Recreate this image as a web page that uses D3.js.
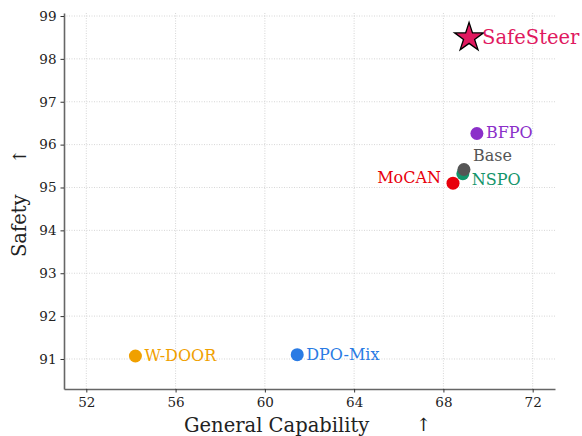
<!DOCTYPE html>
<html>
<head>
<meta charset="utf-8">
<script src="https://d3js.org/d3.v7.min.js"></script>
<style>
body { margin: 0; background: #fff; }
text { font-family: "DejaVu Serif", serif; }
</style>
</head>
<body>
<div id="chart"></div>
<script>
// methods, capability (x), safety (y)
var names = ["SafeSteer", "BFPO", "Base", "NSPO", "MoCAN", "W-DOOR", "DPO-Mix"];
var capability = [69.15, 69.5, 68.92, 68.87, 68.43, 54.2, 61.45];
var safety = [98.52, 96.26, 95.42, 95.32, 95.1, 91.07, 91.1];
var colors = ["#e0195f", "#8b2fc9", "#555555", "#14956b", "#e8000b", "#f0a000", "#2a7be4"];
var xTicks = [52, 56, 60, 64, 68, 72];
var yTicks = [91, 92, 93, 94, 95, 96, 97, 98, 99];

var W = 582, H = 436;
var margin = {top: 13, right: 27, bottom: 47, left: 64};
var width = W - margin.left - margin.right,
    height = H - margin.top - margin.bottom;

var svg = d3.select("#chart").append("svg")
    .attr("width", W).attr("height", H)
  .append("g")
    .attr("transform", "translate(" + margin.left + "," + margin.top + ")");

var x = d3.scaleLinear().domain([51, 73]).range([0, width]);
var y = d3.scaleLinear().domain([90.3, 99.07]).range([height, 0]);

// grid
svg.append("g").selectAll("line.gx").data(xTicks).enter().append("line")
    .attr("x1", d => x(d)).attr("x2", d => x(d))
    .attr("y1", 0).attr("y2", height)
    .attr("stroke", "#cccccc").attr("stroke-width", 0.8).attr("stroke-dasharray", "1,1.5");
svg.append("g").selectAll("line.gy").data(yTicks).enter().append("line")
    .attr("x1", 0).attr("x2", width)
    .attr("y1", d => y(d)).attr("y2", d => y(d))
    .attr("stroke", "#cccccc").attr("stroke-width", 0.8).attr("stroke-dasharray", "1,1.5");

// axes
var xAxis = svg.append("g")
    .attr("transform", "translate(0," + height + ")")
    .call(d3.axisBottom(x).tickValues(xTicks).tickSize(3.5).tickSizeOuter(0).tickPadding(5));
var yAxis = svg.append("g")
    .call(d3.axisLeft(y).tickValues(yTicks).tickSize(3.5).tickSizeOuter(0).tickPadding(4));
[xAxis, yAxis].forEach(function(a) {
  a.select(".domain").attr("stroke", "#666").attr("stroke-width", 1.6);
  a.selectAll(".tick line").attr("stroke", "#333");
  a.selectAll(".tick text").attr("font-size", 13.5).attr("fill", "#222")
    .attr("font-family", "DejaVu Serif, serif");
});

// axis labels
svg.append("text")
    .attr("x", 120).attr("y", height + 43)
    .attr("font-size", 19.5).attr("fill", "#222")
    .text("General Capability");
svg.append("text")
    .attr("x", 352).attr("y", height + 42)
    .attr("font-size", 18).attr("fill", "#222")
    .text("↑");
svg.append("text")
    .attr("transform", "translate(" + (-38) + "," + 244 + ")rotate(-90)")
    .attr("font-size", 19.5).attr("fill", "#222")
    .text("Safety");
svg.append("text")
    .attr("transform", "translate(" + (-38) + "," + 151 + ")rotate(-90)")
    .attr("font-size", 18).attr("fill", "#222")
    .text("↑");

var data = names.map(function(n, i) {
  return {name: n, x: capability[i], y: safety[i], c: colors[i]};
});

// points (draw order so Base sits on NSPO)
var order = ["W-DOOR", "DPO-Mix", "MoCAN", "NSPO", "Base", "BFPO"];
order.forEach(function(n) {
  var d = data.find(e => e.name === n);
  svg.append("circle")
    .attr("cx", x(d.x)).attr("cy", y(d.y)).attr("r", 6.5)
    .attr("fill", d.c);
});

// star
var s = data[0];
svg.append("path")
    .attr("d", d3.symbol().type(d3.symbolStar).size(260)())
    .attr("transform", "translate(" + x(s.x) + "," + (y(s.y) + 1) + ")")
    .attr("fill", s.c).attr("stroke", "#000").attr("stroke-width", 1.3);

// labels
var labels = {
  "SafeSteer": {dx: 13, dy: 7, size: 19.5, anchor: "start"},
  "BFPO": {dx: 9, dy: 5, size: 16, anchor: "start"},
  "Base": {dx: 9, dy: -8, size: 16, anchor: "start"},
  "NSPO": {dx: 9, dy: 11, size: 16, anchor: "start"},
  "MoCAN": {dx: -12, dy: 0, size: 16, anchor: "end"},
  "W-DOOR": {dx: 9, dy: 5, size: 16, anchor: "start"},
  "DPO-Mix": {dx: 9, dy: 5, size: 16, anchor: "start"}
};
data.forEach(function(d) {
  var l = labels[d.name];
  svg.append("text")
    .attr("x", x(d.x) + l.dx).attr("y", y(d.y) + l.dy)
    .attr("font-size", l.size).attr("text-anchor", l.anchor)
    .attr("fill", d.c)
    .text(d.name);
});
</script>
</body>
</html>
